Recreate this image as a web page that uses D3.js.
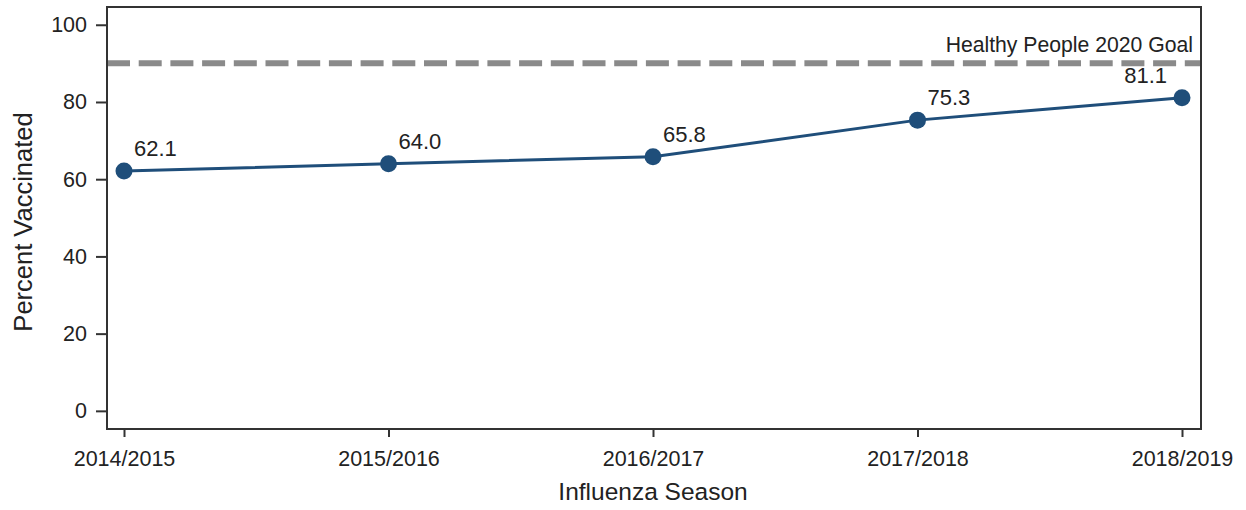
<!DOCTYPE html>
<html>
<head>
<meta charset="utf-8">
<script src="https://cdn.jsdelivr.net/npm/d3@7"></script>
<style>
html,body{margin:0;padding:0;background:#fff;}
svg{display:block;font-family:"Liberation Sans",Arial,sans-serif;}
</style>
</head>
<body>
<svg id="chart" width="1246" height="510"></svg>
<script>
const seasons = ["2014/2015","2015/2016","2016/2017","2017/2018","2018/2019"];
const percentVaccinated = [62.1, 64.0, 65.8, 75.3, 81.1];
const yTicks = [0, 20, 40, 60, 80, 100];
const goalValue = 90;
const goalLabel = "Healthy People 2020 Goal";
const xTitle = "Influenza Season";
const yTitle = "Percent Vaccinated";

const svg = d3.select("#chart");
const frame = {left:107, right:1201, top:7, bottom:429};

const x = d3.scalePoint().domain(seasons).range([124, 1182]);
const y = d3.scaleLinear().domain([-4.7, 104.6]).range([frame.bottom, frame.top]);

const textColor = "#222";
const lineColor = "#1f4e7a";
const ff = '"Liberation Sans",Arial,sans-serif';

// goal line
svg.append("line")
  .attr("x1", frame.left).attr("x2", frame.right)
  .attr("y1", y(goalValue)).attr("y2", y(goalValue))
  .attr("stroke", "#8a8a8a").attr("stroke-width", 6)
  .attr("stroke-dasharray", "23,8.7");

svg.append("text")
  .attr("x", 1193).attr("y", y(goalValue) - 11)
  .attr("text-anchor", "end")
  .attr("font-size", 21.2).attr("fill", textColor)
  .text(goalLabel);

// Y axis
const yAxis = d3.axisLeft(y).tickValues(yTicks).tickSize(11).tickPadding(9);
const gy = svg.append("g").attr("transform", `translate(${frame.left},0)`).call(yAxis);
gy.select(".domain").remove();
gy.selectAll(".tick line").attr("stroke", "#333").attr("stroke-width", 2);
gy.selectAll(".tick text").attr("font-size", 21.5).attr("fill", textColor).attr("font-family", ff);

// X axis
const xAxis = d3.axisBottom(x).tickSize(8).tickPadding(14);
const gx = svg.append("g").attr("transform", `translate(0,${frame.bottom})`).call(xAxis);
gx.select(".domain").remove();
gx.selectAll(".tick line").attr("stroke", "#333").attr("stroke-width", 2);
gx.selectAll(".tick text").attr("font-size", 21.5).attr("fill", textColor).attr("font-family", ff);

// frame
svg.append("rect")
  .attr("x", frame.left).attr("y", frame.top)
  .attr("width", frame.right - frame.left).attr("height", frame.bottom - frame.top)
  .attr("fill", "none").attr("stroke", "#333").attr("stroke-width", 2);

// axis titles
svg.append("text")
  .attr("x", 653).attr("y", 500)
  .attr("text-anchor", "middle").attr("font-size", 24.5).attr("fill", textColor)
  .text(xTitle);

svg.append("text")
  .attr("transform", `translate(32,222) rotate(-90)`)
  .attr("text-anchor", "middle").attr("font-size", 25.5).attr("fill", textColor)
  .text(yTitle);

// data line
const data = seasons.map((s, i) => ({s, v: percentVaccinated[i]}));
svg.append("path")
  .datum(data)
  .attr("fill", "none").attr("stroke", lineColor).attr("stroke-width", 3)
  .attr("d", d3.line().x(d => x(d.s)).y(d => y(d.v)));

svg.selectAll("circle.pt").data(data).enter().append("circle")
  .attr("class", "pt")
  .attr("cx", d => x(d.s)).attr("cy", d => y(d.v)).attr("r", 8.5)
  .attr("fill", lineColor);

svg.selectAll("text.lbl").data(data).enter().append("text")
  .attr("class", "lbl")
  .attr("x", (d, i) => i === data.length - 1 ? x(d.s) - 15 : x(d.s) + 10)
  .attr("y", d => y(d.v) - 15)
  .attr("text-anchor", (d, i) => i === data.length - 1 ? "end" : "start")
  .attr("font-size", 22).attr("fill", textColor)
  .text(d => d.v.toFixed(1));
</script>
</body>
</html>
